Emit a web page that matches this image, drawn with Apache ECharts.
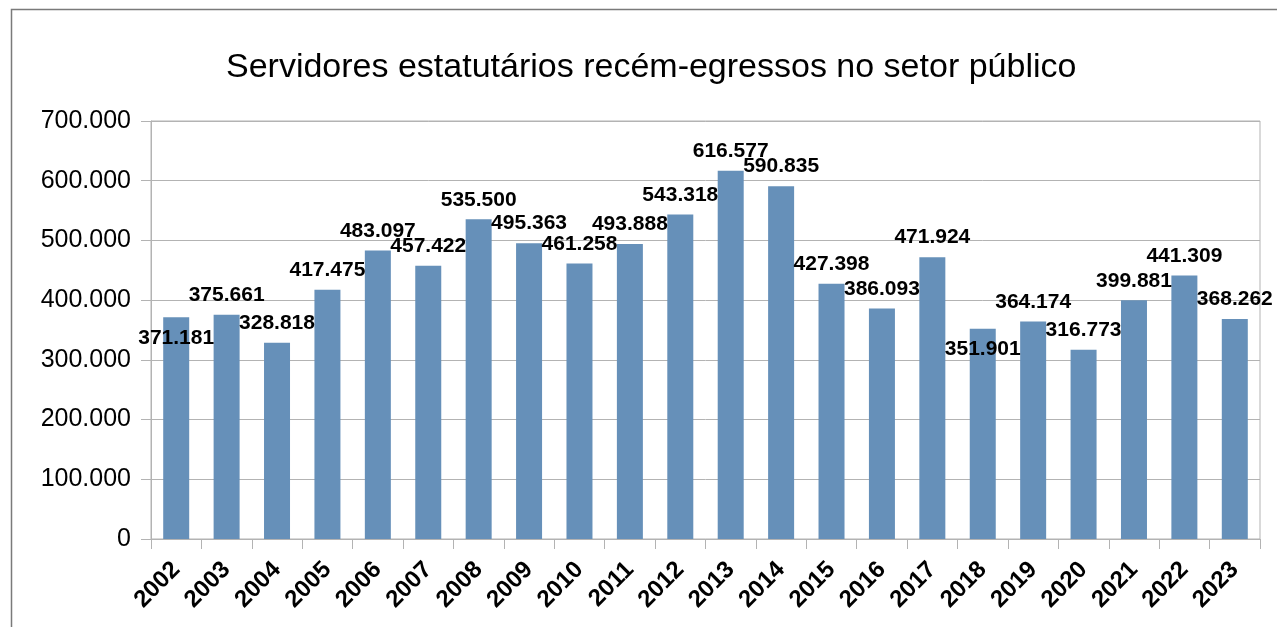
<!DOCTYPE html>
<html>
<head>
<meta charset="utf-8">
<script src="https://cdn.jsdelivr.net/npm/echarts@6/dist/echarts.min.js"></script>
<style>
  html, body { margin: 0; padding: 0; background: #fff; }
  #main { width: 1277px; height: 627px; }
</style>
</head>
<body>
<div id="main"></div>
<script>
// anos
const years = ['2002', '2003', '2004', '2005', '2006', '2007', '2008', '2009', '2010', '2011', '2012',
  '2013', '2014', '2015', '2016', '2017', '2018', '2019', '2020', '2021', '2022', '2023'];
// servidores recém-egressos
const values = [371181, 375661, 328818, 417475, 483097, 457422, 535500, 495363, 461258, 493888, 543318,
  616577, 590835, 427398, 386093, 471924, 351901, 364174, 316773, 399881, 441309, 368262];
const yTicks = [0, 100000, 200000, 300000, 400000, 500000, 600000, 700000];

// rótulos que ficam dentro da barra (para não bater no vizinho)
const labelBelowTop = ['2002', '2018'];

const fontFamily = '"Liberation Sans", Arial, sans-serif';
// 1234567 -> 1.234.567
const fmt = (v) => String(v).replace(/\B(?=(\d{3})+(?!\d))/g, '.');

const chart = echarts.init(document.getElementById('main'));

chart.setOption({
  animation: false,
  backgroundColor: '#fff',
  textStyle: { fontFamily },
  title: {
    text: 'Servidores estatutários recém-egressos no setor público',
    left: 221,
    top: 46,
    textStyle: { fontFamily, fontSize: 34, fontWeight: 'normal', color: '#000' }
  },
  // moldura do gráfico
  graphic: [{
    type: 'rect',
    shape: { x: 11.5, y: 9.5, width: 1300, height: 700 },
    style: { fill: 'none', stroke: '#7a7a7a', lineWidth: 1.5 },
    silent: true
  }],
  grid: {
    left: 151,
    right: 17,
    top: 121,
    bottom: 88,
    show: true,
    borderColor: '#b3b3b3',
    borderWidth: 1
  },
  xAxis: {
    type: 'category',
    data: years,
    axisLine: { lineStyle: { color: '#b3b3b3', width: 1 } },
    axisTick: { show: true, length: 10, lineStyle: { color: '#b3b3b3' } },
    axisLabel: {
      interval: 0,
      rotate: 45,
      margin: 27,
      fontFamily,
      fontSize: 24,
      fontWeight: 'bold',
      color: '#000'
    }
  },
  yAxis: {
    type: 'value',
    min: yTicks[0],
    max: yTicks[yTicks.length - 1],
    interval: yTicks[1] - yTicks[0],
    axisLine: { show: true, lineStyle: { color: '#b3b3b3' } },
    axisTick: { show: true, length: 10, lineStyle: { color: '#b3b3b3' } },
    splitLine: { lineStyle: { color: '#b3b3b3', width: 1 } },
    axisLabel: {
      margin: 20,
      fontFamily,
      fontSize: 25,
      color: '#000',
      formatter: (v) => fmt(v)
    }
  },
  series: [{
    type: 'bar',
    barWidth: 26,
    itemStyle: { color: '#6690b9' },
    data: values.map((v, i) => {
      const item = { value: v };
      if (labelBelowTop.includes(years[i])) {
        item.label = { position: 'insideTop', distance: 10 };
      }
      return item;
    }),
    label: {
      show: true,
      position: 'top',
      distance: 9,
      fontFamily,
      fontSize: 21,
      fontWeight: 'bold',
      color: '#000',
      formatter: (p) => fmt(p.value)
    }
  }]
});
</script>
</body>
</html>
